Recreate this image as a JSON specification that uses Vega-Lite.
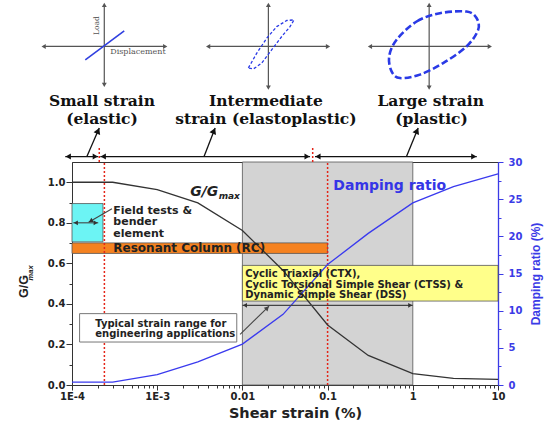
{
  "$schema": "https://vega.github.io/schema/vega-lite/v6.json",
  "width": 426,
  "height": 223,
  "autosize": {"type": "none"},
  "padding": {"left": 72, "top": 162, "right": 49, "bottom": 40},
  "background": "white",
  "config": {
    "view": {"stroke": "#333", "strokeWidth": 1},
    "axis": {"grid": false, "labelFont": "DejaVu Sans", "labelFontWeight": "bold", "titleFont": "DejaVu Sans", "titleFontWeight": "bold"}
  },
  "datasets": {
    "curves": [
      {"strain": 0.0001, "G": 1.0, "D": 0.4},
      {"strain": 0.0003, "G": 1.0, "D": 0.4},
      {"strain": 0.001, "G": 0.964, "D": 1.4},
      {"strain": 0.003, "G": 0.898, "D": 3.1},
      {"strain": 0.01, "G": 0.762, "D": 5.5},
      {"strain": 0.03, "G": 0.565, "D": 9.5},
      {"strain": 0.1, "G": 0.296, "D": 16.2},
      {"strain": 0.3, "G": 0.146, "D": 20.4},
      {"strain": 1, "G": 0.056, "D": 24.5},
      {"strain": 3, "G": 0.033, "D": 26.7},
      {"strain": 10, "G": 0.028, "D": 28.4}
    ],
    "zones": [
      {"zone": "engineering range", "strain": 0.01, "strain2": 1, "G": 0, "G2": 1.1},
      {"zone": "field and bender", "strain": 0.0001, "strain2": 0.000231, "G": 0.706, "G2": 0.895},
      {"zone": "resonant column", "strain": 0.0001, "strain2": 0.1, "G": 0.649, "G2": 0.701},
      {"zone": "cyclic tests", "strain": 0.01, "strain2": 10, "G": 0.414, "G2": 0.59}
    ],
    "limits": [
      {"strain": 0.00024, "G": 0, "G2": 1.1},
      {"strain": 0.1, "G": 0, "G2": 1.1}
    ],
    "diagAxes": [
      {"x": -4.333, "x2": -2.906, "y": 1.67, "y2": 1.67},
      {"x": -3.621, "x2": -3.621, "y": 1.481, "y2": 1.875},
      {"x": -2.402, "x2": -0.995, "y": 1.67, "y2": 1.67},
      {"x": -1.695, "x2": -1.695, "y": 1.467, "y2": 1.875},
      {"x": -0.503, "x2": 0.904, "y": 1.67, "y2": 1.67},
      {"x": 0.192, "x2": 0.192, "y": 1.467, "y2": 1.875}
    ],
    "diagHeads": [
      {"x": -4.333, "y": 1.67, "dir": "left"}, {"x": -2.906, "y": 1.67, "dir": "right"},
      {"x": -3.621, "y": 1.875, "dir": "up"}, {"x": -3.621, "y": 1.481, "dir": "down"},
      {"x": -2.402, "y": 1.67, "dir": "left"}, {"x": -0.995, "y": 1.67, "dir": "right"},
      {"x": -1.695, "y": 1.875, "dir": "up"}, {"x": -1.695, "y": 1.467, "dir": "down"},
      {"x": -0.503, "y": 1.67, "dir": "left"}, {"x": 0.904, "y": 1.67, "dir": "right"},
      {"x": 0.192, "y": 1.875, "dir": "up"}, {"x": 0.192, "y": 1.467, "dir": "down"}
    ],
    "loops": [
      {"loop": "intermediate", "order": 1, "x": -1.93, "y": 1.564},
      {"loop": "intermediate", "order": 2, "x": -1.831, "y": 1.637},
      {"loop": "intermediate", "order": 3, "x": -1.714, "y": 1.711},
      {"loop": "intermediate", "order": 4, "x": -1.597, "y": 1.768},
      {"loop": "intermediate", "order": 5, "x": -1.479, "y": 1.798},
      {"loop": "intermediate", "order": 6, "x": -1.394, "y": 1.801},
      {"loop": "intermediate", "order": 7, "x": -1.441, "y": 1.768},
      {"loop": "intermediate", "order": 8, "x": -1.538, "y": 1.719},
      {"loop": "intermediate", "order": 9, "x": -1.655, "y": 1.654},
      {"loop": "intermediate", "order": 10, "x": -1.773, "y": 1.588},
      {"loop": "intermediate", "order": 11, "x": -1.871, "y": 1.559},
      {"loop": "large", "order": 1, "x": -0.19, "y": 1.703},
      {"loop": "large", "order": 2, "x": 0.045, "y": 1.793},
      {"loop": "large", "order": 3, "x": 0.318, "y": 1.834},
      {"loop": "large", "order": 4, "x": 0.631, "y": 1.842},
      {"loop": "large", "order": 5, "x": 0.748, "y": 1.81},
      {"loop": "large", "order": 6, "x": 0.767, "y": 1.752},
      {"loop": "large", "order": 7, "x": 0.631, "y": 1.67},
      {"loop": "large", "order": 8, "x": 0.356, "y": 1.588},
      {"loop": "large", "order": 9, "x": 0.083, "y": 1.531},
      {"loop": "large", "order": 10, "x": -0.151, "y": 1.514},
      {"loop": "large", "order": 11, "x": -0.249, "y": 1.547},
      {"loop": "large", "order": 12, "x": -0.277, "y": 1.621}
    ],
    "rowLines": [
      {"x": -4.079, "x2": -3.692, "y": 1.127, "y2": 1.127},
      {"x": -3.668, "x2": -1.206, "y": 1.127, "y2": 1.127},
      {"x": -1.148, "x2": 0.751, "y": 1.127, "y2": 1.127},
      {"x": -3.824, "x2": -3.68, "y": 1.128, "y2": 1.268},
      {"x": -2.449, "x2": -2.32, "y": 1.128, "y2": 1.268},
      {"x": -0.073, "x2": 0.063, "y": 1.128, "y2": 1.268}
    ],
    "rowHeads": [
      {"x": -4.044, "y": 1.127, "dir": "left"}, {"x": -3.727, "y": 1.127, "dir": "right"},
      {"x": -3.633, "y": 1.127, "dir": "left"}, {"x": -1.241, "y": 1.127, "dir": "right"},
      {"x": -1.113, "y": 1.127, "dir": "left"}, {"x": 0.716, "y": 1.127, "dir": "right"}
    ],
    "annoLines": [
      {"x": -3.531, "y": 0.869, "x2": -3.805, "y2": 0.803},
      {"x": -2.027, "y": 0.25, "x2": -1.687, "y2": 0.389},
      {"x": -2, "y": 0.393, "x2": 0, "y2": 0.393},
      {"x": -3.985, "y": 0.8, "x2": -3.692, "y2": 0.8}
    ],
    "annoHeads": [
      {"x": -1.97, "y": 0.393, "dir": "left"}, {"x": -0.03, "y": 0.393, "dir": "right"},
      {"x": -3.955, "y": 0.8, "dir": "left"}, {"x": -3.722, "y": 0.8, "dir": "right"}
    ],
    "topLabels": [
      {"x": -3.648, "y": 1.378, "label": "Small strain"},
      {"x": -3.648, "y": 1.287, "label": "(elastic)"},
      {"x": -1.724, "y": 1.378, "label": "Intermediate"},
      {"x": -1.724, "y": 1.287, "label": "strain (elastoplastic)"},
      {"x": 0.21, "y": 1.378, "label": "Large strain"},
      {"x": 0.22, "y": 1.287, "label": "(plastic)"}
    ],
    "boxTexts": [
      {"x": -3.515, "y": 0.845, "label": "Field tests &\nbender\nelement"}
    ],
    "smallBoxTexts": [
      {"x": -1.968, "y": 0.531, "label": "Cyclic Triaxial (CTX),\nCyclic Torsional Simple Shear (CTSS) &\nDynamic Simple Shear (DSS)"},
      {"x": -3.727, "y": 0.286, "label": "Typical strain range for\nengineering applications"}
    ]
  },
  "layer": [
    {
      "layer": [
        {
          "encoding": {
            "x": {
              "field": "strain", "type": "quantitative",
              "scale": {"type": "log", "domain": [0.0001, 10], "nice": false},
              "axis": {
                "title": "Shear strain (%)",
                "values": [0.0001,0.0002,0.0003,0.0004,0.0005,0.0006,0.0007,0.0008,0.0009,0.001,0.002,0.003,0.004,0.005,0.006,0.007,0.008,0.009,0.01,0.02,0.03,0.04,0.05,0.06,0.07,0.08,0.09,0.1,0.2,0.3,0.4,0.5,0.6,0.7,0.8,0.9,1,2,3,4,5,6,7,8,9,10],
                "labelExpr": "datum.value == 0.0001 ? '1E-4' : datum.value == 0.001 ? '1E-3' : datum.value == 0.01 ? '0.01' : datum.value == 0.1 ? '0.1' : datum.value == 1 ? '1' : datum.value == 10 ? '10' : ''",
                "tickSize": {"condition": {"test": "indexof([0.0001,0.001,0.01,0.1,1,10], datum.value) >= 0", "value": 5}, "value": 3},
                "labelOverlap": false, "labelFlush": false, "labelPadding": 1,
                "labelFontSize": 10, "labelColor": "#222", "domainColor": "#333", "tickColor": "#333",
                "titleFontSize": 14.5, "titleColor": "#222", "titleX": 223, "titleY": 32, "titleAlign": "center", "titleBaseline": "alphabetic"
              }
            },
            "y": {
              "field": "G", "type": "quantitative",
              "scale": {"domain": [0, 1.1], "nice": false, "zero": false},
              "axis": {
                "title": null,
                "values": [0,0.1,0.2,0.3,0.4,0.5,0.6,0.7,0.8,0.9,1.0],
                "labelExpr": "indexof([0,0.2,0.4,0.6,0.8,1], datum.value) >= 0 ? format(datum.value, '.1f') : ''",
                "tickSize": {"condition": {"test": "indexof([0,0.2,0.4,0.6,0.8,1], datum.value) >= 0", "value": 6}, "value": 3},
                "labelPadding": 1, "labelFontSize": 10, "labelColor": "#222", "domainColor": "#333", "tickColor": "#333"
              }
            }
          },
          "layer": [
            {
              "data": {"name": "zones"},
              "mark": {"type": "rect", "stroke": "#555", "strokeWidth": 0.8},
              "encoding": {
                "x2": {"field": "strain2"},
                "y2": {"field": "G2"},
                "fill": {"field": "zone", "type": "nominal", "scale": {"domain": ["engineering range", "field and bender", "resonant column", "cyclic tests"], "range": ["#d3d3d3", "#6cf4f4", "#f58220", "#ffff8a"]}, "legend": null}
              }
            },
            {
              "data": {"name": "limits"},
              "mark": {"type": "rule", "color": "#e42519", "strokeWidth": 1.5, "strokeDash": [2, 2]},
              "encoding": {"y2": {"field": "G2"}}
            },
            {
              "data": {"name": "curves"},
              "mark": {"type": "line", "color": "#333", "strokeWidth": 1.3},
              "encoding": {}
            }
          ]
        },
        {
          "data": {"name": "curves"},
          "mark": {"type": "line", "color": "#3a3aee", "strokeWidth": 1.3},
          "encoding": {
            "x": {"field": "strain", "type": "quantitative", "scale": {"type": "log", "domain": [0.0001, 10], "nice": false}},
            "y": {
              "field": "D", "type": "quantitative",
              "scale": {"domain": [0, 30], "nice": false, "zero": false},
              "axis": {
                "orient": "right",
                "title": "Damping ratio (%)",
                "values": [0,2.5,5,7.5,10,12.5,15,17.5,20,22.5,25,27.5,30],
                "labelExpr": "datum.value % 5 == 0 ? datum.label : ''",
                "tickSize": {"condition": {"test": "datum.value % 5 == 0", "value": 5}, "value": 3},
                "labelPadding": 5, "labelFontSize": 10, "labelColor": "#3b3be6", "domainColor": "#3b3be6", "tickColor": "#3b3be6", "domainWidth": 1.3,
                "titleFont": "Liberation Sans", "titleFontSize": 12, "titleColor": "#3b3be6",
                "titleAngle": 270, "titleX": 37, "titleY": 111.5, "titleAlign": "center", "titleBaseline": "middle"
              }
            }
          }
        }
      ],
      "resolve": {"scale": {"y": "independent"}}
    },
    {
      "encoding": {
        "x": {"field": "x", "type": "quantitative", "scale": {"domain": [-4, 1], "nice": false, "zero": false}, "axis": null},
        "y": {"field": "y", "type": "quantitative", "scale": {"domain": [0, 1.1], "nice": false, "zero": false}, "axis": null}
      },
      "layer": [
        {
          "data": {"name": "diagAxes"},
          "mark": {"type": "rule", "color": "#555", "strokeWidth": 1.2},
          "encoding": {"x2": {"field": "x2"}, "y2": {"field": "y2"}}
        },
        {
          "data": {"name": "diagHeads"},
          "mark": {"type": "point", "filled": true, "color": "#555", "size": 24, "opacity": 1},
          "encoding": {"shape": {"field": "dir", "type": "nominal", "scale": {"domain": ["left", "right", "up", "down"], "range": ["triangle-left", "triangle-right", "triangle-up", "triangle-down"]}, "legend": null}}
        },
        {
          "data": {"values": [{"x": -3.844, "y": 1.604, "x2": -3.387, "y2": 1.747}]},
          "mark": {"type": "rule", "color": "#3040e0", "strokeWidth": 1.6},
          "encoding": {"x2": {"field": "x2"}, "y2": {"field": "y2"}}
        },
        {
          "data": {"name": "loops"},
          "transform": [{"filter": "datum.loop == 'intermediate'"}],
          "mark": {"type": "line", "color": "#2a3ae6", "strokeWidth": 1.3, "strokeDash": [3, 2], "interpolate": "linear-closed"},
          "encoding": {"order": {"field": "order", "type": "quantitative"}}
        },
        {
          "data": {"name": "loops"},
          "transform": [{"filter": "datum.loop == 'large'"}],
          "mark": {"type": "line", "color": "#2a3ae6", "strokeWidth": 2.6, "strokeDash": [7, 3], "interpolate": "cardinal-closed"},
          "encoding": {"order": {"field": "order", "type": "quantitative"}}
        },
        {
          "data": {"name": "rowLines"},
          "mark": {"type": "rule", "color": "#111", "strokeWidth": 1.3},
          "encoding": {"x2": {"field": "x2"}, "y2": {"field": "y2"}}
        },
        {
          "data": {"name": "rowHeads"},
          "mark": {"type": "point", "filled": true, "color": "#111", "size": 36, "opacity": 1},
          "encoding": {"shape": {"field": "dir", "type": "nominal", "scale": {"domain": ["left", "right", "up", "down"], "range": ["triangle-left", "triangle-right", "triangle-up", "triangle-down"]}, "legend": null}}
        },
        {
          "data": {"values": [{"x": -3.694, "y": 1.254}, {"x": -2.334, "y": 1.254}, {"x": 0.049, "y": 1.254}]},
          "mark": {"type": "point", "shape": "triangle-up", "angle": 23, "filled": true, "color": "#111", "size": 50, "opacity": 1},
          "encoding": {}
        },
        {
          "data": {"values": [{"x": -3.68, "y": 1.1, "y2": 1.169}, {"x": -1.175, "y": 1.1, "y2": 1.169}]},
          "mark": {"type": "rule", "color": "#e42519", "strokeWidth": 1.5, "strokeDash": [2, 2]},
          "encoding": {"y2": {"field": "y2"}}
        },
        {
          "data": {"name": "annoLines"},
          "mark": {"type": "rule", "color": "#444", "strokeWidth": 1.1},
          "encoding": {"x2": {"field": "x2"}, "y2": {"field": "y2"}}
        },
        {
          "data": {"name": "annoHeads"},
          "mark": {"type": "point", "filled": true, "color": "#333", "size": 22, "opacity": 1},
          "encoding": {"shape": {"field": "dir", "type": "nominal", "scale": {"domain": ["left", "right", "up", "down"], "range": ["triangle-left", "triangle-right", "triangle-up", "triangle-down"]}, "legend": null}}
        },
        {
          "data": {"values": [{"x": -3.78, "y": 0.809}]},
          "mark": {"type": "point", "shape": "triangle-up", "angle": 240, "filled": true, "color": "#333", "size": 24, "opacity": 1},
          "encoding": {}
        },
        {
          "data": {"values": [{"x": -1.708, "y": 0.38}]},
          "mark": {"type": "point", "shape": "triangle-up", "angle": 46, "filled": true, "color": "#444", "size": 28, "opacity": 1},
          "encoding": {}
        },
        {
          "data": {"values": [{"x": -3.911, "x2": -2.066, "y": 0.212, "y2": 0.352}]},
          "mark": {"type": "rect", "fill": "white", "stroke": "#777", "strokeWidth": 1},
          "encoding": {"x2": {"field": "x2"}, "y2": {"field": "y2"}}
        },
        {
          "data": {"name": "topLabels"},
          "mark": {"type": "text", "font": "DejaVu Serif", "fontWeight": "bold", "fontSize": 15.5, "align": "center", "baseline": "alphabetic", "color": "#111"},
          "encoding": {"text": {"field": "label", "type": "nominal"}}
        },
        {
          "data": {"values": [{"x": -3.707, "y": 1.773, "label": "Load"}]},
          "mark": {"type": "text", "font": "DejaVu Serif", "fontSize": 7.5, "angle": 270, "align": "center", "baseline": "middle", "color": "#555"},
          "encoding": {"text": {"field": "label", "type": "nominal"}}
        },
        {
          "data": {"values": [{"x": -3.551, "y": 1.642, "label": "Displacement"}]},
          "mark": {"type": "text", "font": "DejaVu Serif", "fontSize": 8, "align": "left", "baseline": "middle", "color": "#555"},
          "encoding": {"text": {"field": "label", "type": "nominal"}}
        },
        {
          "data": {"name": "boxTexts"},
          "mark": {"type": "text", "font": "DejaVu Sans", "fontWeight": "bold", "fontSize": 11, "align": "left", "baseline": "alphabetic", "lineBreak": "\n", "lineHeight": 11.5, "color": "#222"},
          "encoding": {"text": {"field": "label", "type": "nominal"}}
        },
        {
          "data": {"values": [{"x": -3.515, "y": 0.675, "label": "Resonant Column (RC)"}]},
          "mark": {"type": "text", "font": "DejaVu Sans", "fontWeight": "bold", "fontSize": 12, "align": "left", "baseline": "middle", "color": "#222"},
          "encoding": {"text": {"field": "label", "type": "nominal"}}
        },
        {
          "data": {"name": "smallBoxTexts"},
          "mark": {"type": "text", "font": "DejaVu Sans", "fontWeight": "bold", "fontSize": 10, "align": "left", "baseline": "alphabetic", "lineBreak": "\n", "lineHeight": 10.4, "color": "#222"},
          "encoding": {"text": {"field": "label", "type": "nominal"}}
        },
        {
          "data": {"values": [{"x": -0.933, "y": 0.984, "label": "Damping ratio"}]},
          "mark": {"type": "text", "font": "DejaVu Sans", "fontWeight": "bold", "fontSize": 14, "align": "left", "baseline": "middle", "color": "#3535e6"},
          "encoding": {"text": {"field": "label", "type": "nominal"}}
        },
        {
          "data": {"values": [{"x": -2.613, "y": 0.934, "label": "G/G"}]},
          "mark": {"type": "text", "font": "DejaVu Sans", "fontWeight": "bold", "fontStyle": "italic", "fontSize": 14, "align": "left", "baseline": "alphabetic", "color": "#222"},
          "encoding": {"text": {"field": "label", "type": "nominal"}}
        },
        {
          "data": {"values": [{"x": -2.279, "y": 0.917, "label": "max"}]},
          "mark": {"type": "text", "font": "DejaVu Sans", "fontWeight": "bold", "fontStyle": "italic", "fontSize": 9, "align": "left", "baseline": "alphabetic", "color": "#222"},
          "encoding": {"text": {"field": "label", "type": "nominal"}}
        },
        {
          "data": {"values": [{"x": -4.559, "y": 0.486, "label": "G/G"}]},
          "mark": {"type": "text", "font": "Liberation Sans", "fontWeight": "bold", "fontSize": 12.5, "angle": 270, "align": "center", "baseline": "middle", "color": "#222"},
          "encoding": {"text": {"field": "label", "type": "nominal"}}
        },
        {
          "data": {"values": [{"x": -4.477, "y": 0.553, "label": "max"}]},
          "mark": {"type": "text", "font": "Liberation Sans", "fontWeight": "bold", "fontStyle": "italic", "fontSize": 7.5, "angle": 270, "align": "center", "baseline": "middle", "color": "#222"},
          "encoding": {"text": {"field": "label", "type": "nominal"}}
        }
      ]
    }
  ],
  "resolve": {"scale": {"x": "independent", "y": "independent"}}
}
